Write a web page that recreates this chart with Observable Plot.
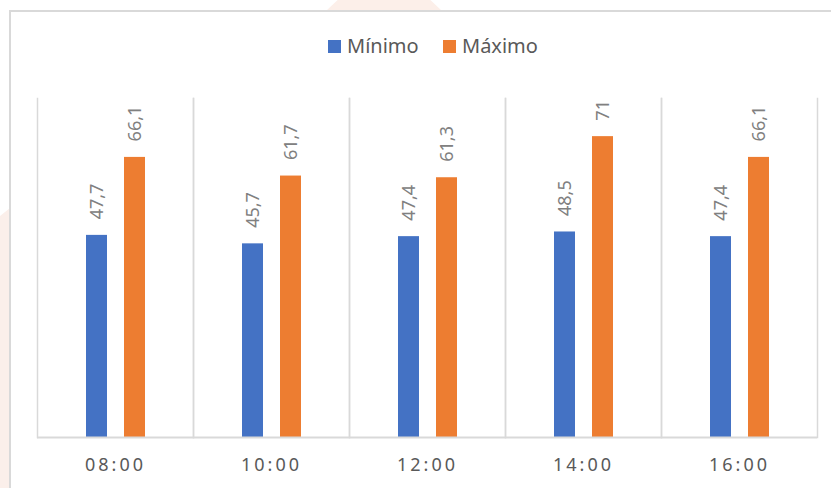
<!DOCTYPE html>
<html>
<head>
<meta charset="utf-8">
<script src="https://cdn.jsdelivr.net/npm/d3@7"></script>
<script src="https://cdn.jsdelivr.net/npm/@observablehq/plot@0.6"></script>
<style>
  html, body { margin: 0; padding: 0; background: #ffffff; }
  #wrap { position: relative; width: 831px; height: 488px; overflow: hidden; font-family: "Noto Sans", "Open Sans", sans-serif; }
  .wm-top { position: absolute; left: 326px; top: 0; width: 116px; height: 11px; background: #fcefe9; clip-path: polygon(10% 0, 90% 0, 100% 100%, 0 100%); }
  .wm-left { position: absolute; left: 0; top: 208px; width: 10px; height: 280px; background: #fbefea; clip-path: polygon(0 8px, 100% 0, 100% 100%, 0 100%); }
  #panel { position: absolute; left: 9px; top: 10px; width: 900px; height: 600px; border: 2px solid #d9d9d9; background: #ffffff; box-sizing: border-box; }
  #content { position: absolute; left: 0; top: 0; width: 831px; }
  #legend { height: 70px; position: relative; }
  .item { position: absolute; top: 33px; display: flex; align-items: center; font-size: 20px; color: #595959; line-height: 26px; }
  .sw { width: 13px; height: 13px; margin-right: 6px; display: inline-block; }
  [aria-label="fx-axis tick label"] text { letter-spacing: 3px; }
</style>
</head>
<body>
<div id="wrap">
  <div class="wm-top"></div>
  <div class="wm-left"></div>
  <div id="panel"></div>
  <div id="content">
    <div id="legend"></div>
    <div id="chart"></div>
  </div>
</div>
<script>
const categories = ["08:00", "10:00", "12:00", "14:00", "16:00"];
const seriesNames = ["Mínimo", "Máximo"];
const minimo = [47.7, 45.7, 47.4, 48.5, 47.4];
const maximo = [66.1, 61.7, 61.3, 71, 66.1];
const colors = ["#4472C4", "#ED7D31"];

const data = [];
categories.forEach((c, i) => {
  data.push({time: c, series: seriesNames[0], value: minimo[i]});
  data.push({time: c, series: seriesNames[1], value: maximo[i]});
});

// legend
const legend = document.getElementById("legend");
const legendX = [328, 443];
seriesNames.forEach((s, i) => {
  const d = document.createElement("div");
  d.className = "item";
  d.style.left = legendX[i] + "px";
  d.innerHTML = `<span class="sw" style="background:${colors[i]}"></span>${s}`;
  legend.appendChild(d);
});

const fmt = v => String(v).replace(".", ",");

const chart = Plot.plot({
  width: 831,
  height: 418,
  marginLeft: 37,
  marginRight: 14,
  marginTop: 28,
  marginBottom: 51,
  style: { fontFamily: "'Noto Sans', 'Open Sans', sans-serif", background: "transparent" },
  fx: { domain: categories, padding: 0, axis: null },
  x: { domain: seriesNames, paddingInner: 0.46, paddingOuter: 1.26, axis: null },
  y: { domain: [0, 80], axis: null },
  color: { domain: seriesNames, range: colors },
  marks: [
    Plot.frame({ anchor: "left", stroke: "#d9d9d9", strokeWidth: 1.5, strokeOpacity: 1 }),
    Plot.frame({ anchor: "right", stroke: "#d9d9d9", strokeWidth: 1.5, strokeOpacity: 1 }),
    Plot.barY(data, { fx: "time", x: "series", y: "value", fill: "series" }),
    Plot.ruleY([0], { stroke: "#d9d9d9", strokeWidth: 2 }),
    Plot.text(data, {
      fx: "time", x: "series", y: "value",
      text: d => fmt(d.value),
      rotate: -90, textAnchor: "start", dy: -16,
      fontSize: 18, fill: "#808080"
    }),
    Plot.axisFx({ anchor: "bottom", tickSize: 0, tickPadding: 21, fontSize: 18, color: "#595959", label: null })
  ]
});
document.getElementById("chart").appendChild(chart);
</script>
</body>
</html>
